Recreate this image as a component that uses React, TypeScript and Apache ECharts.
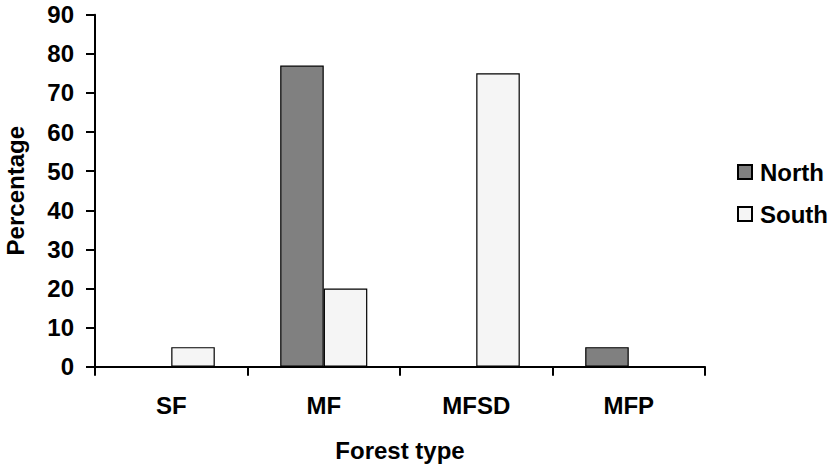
import React, { useEffect, useRef } from "react";
import * as echarts from "echarts";

const categories = ["SF", "MF", "MFSD", "MFP"];
const northValues = [0, 77, 0, 5];
const southValues = [5, 20, 75, 0];
const seriesNames = ["North", "South"];
const yTicks = { min: 0, max: 90, interval: 10 };

const FONT = "'Liberation Sans', Arial, sans-serif";

export default function App() {
  const ref = useRef<HTMLDivElement>(null);
  useEffect(() => {
    if (!ref.current) return;
    const chart = echarts.init(ref.current, undefined, { renderer: "svg" });
    const textBase = { fontFamily: FONT, fontWeight: "bold" as const, color: "#000", fontSize: 24 };
    chart.setOption({
      animation: false,
      backgroundColor: "#fff",
      grid: { left: 95, right: 130, top: 14.7, bottom: 99.3, containLabel: false, outerBoundsMode: "none" },
      legend: {
        orient: "vertical",
        left: 737,
        top: 160,
        padding: 0,
        itemWidth: 14,
        itemHeight: 14,
        itemGap: 18,
        icon: "rect",
        itemStyle: { borderColor: "#000", borderWidth: 2 },
        textStyle: { ...textBase, padding: [0, 0, 0, 3] },
        data: seriesNames,
      },
      xAxis: {
        type: "category",
        data: categories,
        boundaryGap: true,
        name: "Forest type",
        nameLocation: "middle",
        nameGap: 72,
        nameTextStyle: textBase,
        axisLine: { lineStyle: { color: "#000", width: 2 } },
        axisTick: { show: true, alignWithLabel: false, interval: 0, length: 9, lineStyle: { color: "#000", width: 2 } },
        axisLabel: { ...textBase, margin: 27, interval: 0 },
        splitLine: { show: false },
      },
      yAxis: {
        type: "value",
        min: yTicks.min,
        max: yTicks.max,
        interval: yTicks.interval,
        name: "Percentage",
        nameLocation: "middle",
        nameGap: 68,
        nameTextStyle: textBase,
        axisLine: { show: true, lineStyle: { color: "#000", width: 2 } },
        axisTick: { show: true, length: 9, lineStyle: { color: "#000", width: 2 } },
        axisLabel: { ...textBase, margin: 21 },
        splitLine: { show: false },
      },
      series: [
        {
          name: seriesNames[0],
          type: "bar",
          data: northValues,
          barGap: "0%",
          barCategoryGap: "42.9%",
          itemStyle: { color: "#808080", borderColor: "#000", borderWidth: 1.2 },
        },
        {
          name: seriesNames[1],
          type: "bar",
          data: southValues,
          barGap: "0%",
          barCategoryGap: "42.9%",
          itemStyle: { color: "#f5f5f5", borderColor: "#000", borderWidth: 1.2 },
        },
      ],
    });
    return () => chart.dispose();
  }, []);
  return (
    <div
      ref={ref}
      style={{ position: "fixed", left: 0, top: 0, width: 835, height: 466 }}
    />
  );
}
